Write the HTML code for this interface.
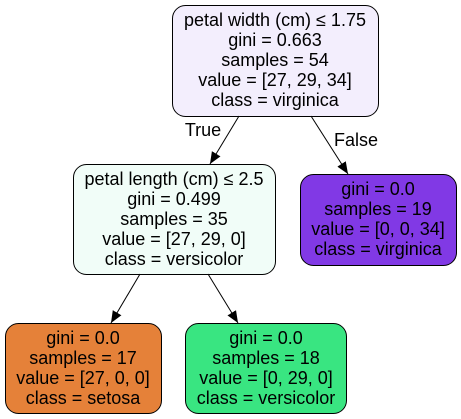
<!DOCTYPE html>
<html><head><style>body{margin:0;background:#fff}svg{display:block}text{font-family:"Liberation Sans",sans-serif;font-size:18px;fill:#000;text-anchor:middle}</style></head>
<body>
<svg width="461" height="419" viewBox="0 0 461 419">
<defs><marker id="a" markerWidth="12" markerHeight="12" refX="12" refY="5.5" orient="auto" markerUnits="userSpaceOnUse"><path d="M0,0.5 L12,5.5 L0,10.5 z" fill="#000"/></marker></defs>
<g stroke="#000" stroke-width="1">
<rect x="172.5" y="5.5" width="206" height="111" rx="13" fill="#f3eefd"/>
<rect x="73.5" y="164.5" width="202" height="110" rx="13" fill="#f1fdf8"/>
<rect x="300.5" y="174.5" width="156" height="91" rx="13" fill="#8139e5"/>
<rect x="5.5" y="323.5" width="156" height="90" rx="13" fill="#e58139"/>
<rect x="185.5" y="323.5" width="161" height="90" rx="13" fill="#39e581"/>
<line x1="239" y1="116" x2="210" y2="164" marker-end="url(#a)"/>
<line x1="311" y1="116" x2="348" y2="174" marker-end="url(#a)"/>
<line x1="140" y1="274" x2="111" y2="323" marker-end="url(#a)"/>
<line x1="208" y1="274" x2="238" y2="323" marker-end="url(#a)"/>
</g>
<text x="275" y="26">petal width (cm) ≤ 1.75</text>
<text x="275" y="46">gini = 0.663</text>
<text x="275" y="66">samples = 54</text>
<text x="275" y="86">value = [27, 29, 34]</text>
<text x="275" y="106">class = virginica</text>
<text x="203" y="136">True</text>
<text x="356" y="146">False</text>
<text x="174" y="185">petal length (cm) ≤ 2.5</text>
<text x="174" y="205">gini = 0.499</text>
<text x="174" y="225">samples = 35</text>
<text x="174" y="245">value = [27, 29, 0]</text>
<text x="174" y="265">class = versicolor</text>
<text x="378" y="195">gini = 0.0</text>
<text x="378" y="215">samples = 19</text>
<text x="378" y="235">value = [0, 0, 34]</text>
<text x="378" y="255">class = virginica</text>
<text x="83" y="344">gini = 0.0</text>
<text x="83" y="364">samples = 17</text>
<text x="83" y="384">value = [27, 0, 0]</text>
<text x="83" y="404">class = setosa</text>
<text x="266" y="344">gini = 0.0</text>
<text x="266" y="364">samples = 18</text>
<text x="266" y="384">value = [0, 29, 0]</text>
<text x="266" y="404">class = versicolor</text>
</svg>
</body></html>
